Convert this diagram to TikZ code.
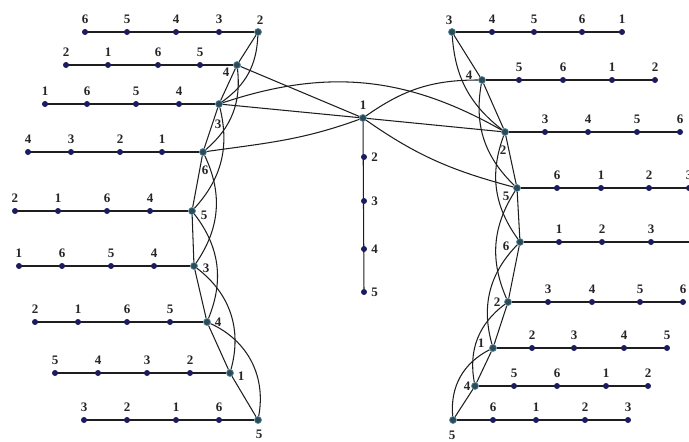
\documentclass[tikz,border=0pt]{standalone}
\usepackage{fontspec}
\setmainfont{Liberation Serif}
\usetikzlibrary{backgrounds}
\definecolor{dotc}{HTML}{1B1B5E}
\definecolor{hubc}{HTML}{2D4A58}
\definecolor{hubr}{HTML}{5C8CA3}
\definecolor{linec}{HTML}{1E1E1E}
\begin{document}
\begin{tikzpicture}[x=1pt,y=1pt,
  dotn/.style={circle,fill=dotc,inner sep=0pt,minimum size=6pt},
  hubn/.style={circle,fill=hubc,draw=hubr,line width=0.7pt,inner sep=0pt,minimum size=7pt},
  lbl/.style={font=\fontsize{13}{13}\selectfont\bfseries,inner sep=0pt,text=black!85},
  wire/.style={draw=linec,line width=1.05pt}]
\useasboundingbox (0,0) rectangle (689,-442);
\clip (0,0) rectangle (689,-442);
\begin{pgfonlayer}{background}
\fill[white] (0,0) rectangle (689,-442);
\end{pgfonlayer}
% ---------- rows: name / hub x / hub y / end x / dots
\foreach \r/\hx/\hy/\ex/\ds in {
  L1/258/32/85/{85/6,127/5,176/4,219/3},
  L2/237/65/66/{66/2,108/1,158/6,200/5},
  L3/219/104/45/{45/1,87/6,136/5,179/4},
  L4/203/152/28/{28/4,71/3,120/2,162/1},
  L5/192/211/15/{15/2,58/1,107/6,150/4},
  L6/194/266/19/{19/1,62/6,111/5,154/4},
  L7/207/322/35/{35/2,78/1,127/6,170/5},
  L8/230/373/55/{55/5,98/4,147/3,190/2},
  L9/258/420/84/{84/3,127/2,176/1,219/6},
  R1/452/32/622/{492/4,534/5,582/6,622/1},
  R2/482/80/655/{519/5,563/6,612/1,655/2},
  R3/505/132/680/{545/3,588/4,637/5,680/6},
  R4/517/188/689/{557/6,601/1,649/2,689/3},
  R5/520/242/689/{559/1,602/2,651/3},
  R6/508/302/683/{548/3,592/4,640/5,683/6},
  R7/493/348/667/{532/2,574/3,624/4,667/5},
  R8/475/386/648/{514/5,557/6,606/1,648/2},
  R9/453/420/628/{493/6,536/1,585/2,628/3}}{
  \node[hubn] (\r) at (\hx,-\hy) {};
  \coordinate (\r e) at (\ex,-\hy);
  \foreach \dx/\dl [count=\k] in \ds {
    \node[dotn,label={[lbl,label distance=5pt]above:\dl}] (\r d\k) at (\dx,-\hy) {};
  }
  \begin{pgfonlayer}{background}
    \draw[wire] (\r e) -- (\r);
  \end{pgfonlayer}
}
% ---------- centre column
\node[hubn] (C1) at (363,-118) {};
\foreach \k/\cy in {2/157,3/201,4/249,5/292}{
  \node[dotn,label={[lbl,label distance=4pt]right:\k}] (C\k) at (364,-\cy) {};
}
\node[lbl] (C1t) at (363,-105) {1};
% ---------- hub labels
\node[lbl] (L1t) at (260,-20) {2};
\node[lbl] (L2t) at (226,-72) {4};
\node[lbl] (L3t) at (218,-124) {3};
\node[lbl] (L4t) at (205,-170) {6};
\node[lbl] (L5t) at (204,-215) {5};
\node[lbl] (L6t) at (206,-268) {3};
\node[lbl] (L7t) at (218,-322) {4};
\node[lbl] (L8t) at (241,-376) {1};
\node[lbl] (L9t) at (259,-434) {5};
\node[lbl] (R1t) at (449,-20) {3};
\node[lbl] (R2t) at (469,-75) {4};
\node[lbl] (R3t) at (503,-150) {2};
\node[lbl] (R4t) at (506,-196) {5};
\node[lbl] (R5t) at (506,-246) {6};
\node[lbl] (R6t) at (497,-302) {2};
\node[lbl] (R7t) at (481,-343) {1};
\node[lbl] (R8t) at (467,-386) {4};
\node[lbl] (R9t) at (452,-435) {5};
\begin{pgfonlayer}{background}
% centre stem
\draw[wire] (C1) -- (C5);
% left chain and curves
\draw[wire] (L1) -- (L2) -- (L3) -- (L4) -- (L5) -- (L6) -- (L7) -- (L8) -- (L9);
\foreach \a/\b/\bb in {L1/L3/26,L2/L4/28,L3/L5/28,L4/L6/30,L5/L7/30,L6/L8/34,L7/L9/38}{
  \draw[wire] (\a) to[bend left=\bb] (\b);
}
% right chain and curves
\draw[wire] (R1) -- (R2) -- (R3) -- (R4) -- (R5) -- (R6) -- (R7) -- (R8) -- (R9);
\foreach \a/\b/\bb in {R1/R3/24,R2/R4/28,R3/R5/28,R4/R6/28,R5/R7/30,R6/R8/32,R7/R9/34}{
  \draw[wire] (\a) to[bend right=\bb] (\b);
}
% cross connections
\draw[wire] (L2) -- (C1);
\draw[wire] (L3) -- (C1);
\draw[wire] (L4) to[out=8,in=200] (C1);
\draw[wire] (C1) to[out=35,in=180] (R2);
\draw[wire] (C1) -- (R3);
\draw[wire] (C1) to[out=-35,in=165] (R4);
\draw[wire] (L3) to[bend left=24] (R3);
\end{pgfonlayer}
\end{tikzpicture}
\end{document}
